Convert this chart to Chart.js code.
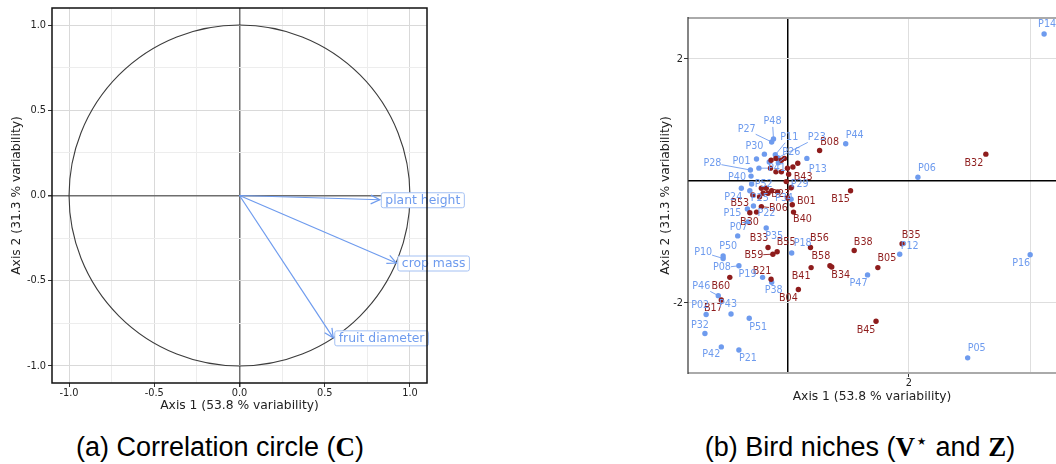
<!DOCTYPE html>
<html>
<head>
<meta charset="utf-8">
<script src="https://cdn.jsdelivr.net/npm/chart.js@4.4.1/dist/chart.umd.min.js"></script>
<style>
  html, body { margin: 0; padding: 0; background: #fff; width: 1056px; height: 464px; overflow: hidden; }
  #circle { position: absolute; left: 0; top: 0; }
  #niches { position: absolute; left: 640px; top: 0; }
  .cap { position: absolute; top: 434px; line-height: 27px; font-family: "Liberation Sans", Arial, sans-serif; font-size: 27px; color: #000; white-space: nowrap; transform: translateX(-50%); }
  .m { font-family: "Liberation Serif", "DejaVu Serif", serif; font-weight: bold; }
  .cap sup { font-family: "DejaVu Sans", sans-serif; font-size: 21px; line-height: 0; vertical-align: 8px; }
</style>
</head>
<body>
<canvas id="circle" width="470" height="420"></canvas>
<canvas id="niches" width="420" height="420"></canvas>
<div class="cap" style="left:220px">(a) Correlation circle (<span class="m">C</span>)</div>
<div class="cap" style="left:860px">(b) Bird niches (<span class="m">V</span><sup>⋆</sup> and <span class="m">Z</span>)</div>
<script>
// correlation circle
const variables = ['plant height', 'crop mass', 'fruit diameter'];
const loadAxis1 = [0.823, 0.92, 0.55];
const loadAxis2 = [-0.025, -0.396, -0.835];
const circleGrid = [-1, -0.75, -0.5, -0.25, 0, 0.25, 0.5, 0.75, 1];
const circleTicks = ['-1.0', '', '-0.5', '', '0.0', '', '0.5', '', '1.0'];

// bird niches: plants (P) and birds (B)
const plantNames = ['P14', 'P44', 'P06', 'P13', 'P16', 'P12', 'P47', 'P05', 'P18', 'P35',
  'P07', 'P50', 'P10', 'P08', 'P19', 'P38', 'P46', 'P02', 'P43', 'P32',
  'P51', 'P42', 'P21', 'P15', 'P24', 'P25', 'P22', 'P34', 'P29', 'P52',
  'P30', 'P01', 'P28', 'P40', 'P41', 'P27', 'P48', 'P11', 'P23', 'P26',
  'P03', 'P09'];
const plantAxis1 = [4.23, 0.96, 2.15, 0.32, 4.00, 1.85, 1.32, 2.97, 0.07, -0.35,
  -0.82, -1.06, -1.06, -0.80, -0.41, -0.26, -1.14, -1.34, -0.93, -1.36,
  -0.63, -1.09, -0.80, -0.66, -0.76, -0.62, -0.56, 0.06, 0.07, -0.59,
  -0.38, -0.51, -0.61, -0.60, -0.47, -0.26, -0.23, -0.20, -0.16, -0.15,
  -0.65, -0.30];
const plantAxis2 = [2.41, 0.61, 0.06, 0.37, -1.21, -1.20, -1.54, -2.90, -1.18, -0.77,
  -0.90, -1.23, -1.27, -1.39, -1.58, -1.66, -1.88, -2.19, -2.18, -2.50,
  -2.25, -2.72, -2.77, -0.46, -0.12, -0.16, -0.41, -0.30, -0.10, -0.05,
  0.44, 0.36, 0.18, 0.08, 0.21, 0.64, 0.69, 0.43, 0.38, 0.30,
  -0.67, 0.31];

const birdNames = ['B32', 'B08', 'B15', 'B35', 'B38', 'B56', 'B58', 'B34', 'B05', 'B45',
  'B41', 'B04', 'B21', 'B59', 'B55', 'B33', 'B60', 'B17', 'B40', 'B01',
  'B43', 'B23', 'B06', 'B53', 'B30', 'B02', 'B03', 'B07', 'B09', 'B10',
  'B11', 'B12', 'B13', 'B14', 'B16', 'B18', 'B19', 'B20', 'B22', 'B24',
  'B25', 'B26', 'B27', 'B28', 'B29'];
const birdAxis1 = [3.27, 0.53, 1.04, 1.89, 1.10, 0.38, 0.70, 0.73, 1.49, 1.46,
  0.39, 0.18, -0.27, -0.24, -0.17, -0.32, -0.95, -1.09, 0.10, 0.08,
  0.06, -0.16, -0.43, -0.62, -0.51, -0.27, -0.19, -0.10, -0.05, -0.28,
  -0.19, -0.10, 0.00, 0.09, 0.17, -0.02, -0.43, -0.35, -0.40, -0.32,
  -0.26, -0.46, -0.57, 0.00, 0.02];
const birdAxis2 = [0.44, 0.50, -0.16, -1.03, -1.14, -1.09, -1.39, -1.41, -1.42, -2.30,
  -1.42, -1.78, -1.61, -1.20, -1.16, -1.09, -1.58, -1.95, -0.51, -0.39,
  -0.11, -0.18, -0.42, -0.52, -0.51, 0.34, 0.37, 0.34, 0.37, 0.21,
  0.15, 0.15, 0.21, 0.23, 0.29, -0.01, -0.12, -0.12, -0.20, -0.20,
  -0.16, -0.26, -0.23, -0.28, 0.11];

const nicheGridX = [0, 2, 4];
const nicheTicksX = ['', '2', ''];
const nicheGridY = [-2, 0, 2];
const nicheTicksY = ['-2', '', '2'];

// where each shown label sits relative to its point (pixels); unlisted points get no label
const labelOffsets = {
  P14: [3, -9], P44: [9, -8], P06: [9, -9], P13: [11, 11], P16: [-9, 9], P12: [10, -8],
  P47: [-9, 9], P05: [9, -9], P18: [11, -9], P35: [8, 9], P07: [1, -8], P50: [5, -10],
  P10: [-20, -6], P08: [-17, 2], P19: [-15, -3], P38: [2, 8], P46: [-17, -9], P02: [-6, -9],
  P43: [-3, -9], P32: [-5, -8], P51: [9, 9], P42: [-10, 8], P21: [9, 9], P15: [-15, 4],
  P24: [-8, 9], P25: [10, 8], P22: [13, 8], P34: [-7, -1], P29: [8, -3], P52: [12, 0],
  P30: [-10, -8], P01: [-15, 2], P28: [-38, -7], P40: [-14, 1], P41: [18, 0], P27: [-25, -12],
  P48: [-1, -17], P11: [14, -17], P23: [39, -20], P26: [13, -10],
  B32: [-12, 9], B08: [10, -8], B15: [-10, 9], B35: [9, -8], B38: [9, -8], B56: [9, -9],
  B58: [-9, -9], B34: [9, 9], B05: [9, -9], B45: [-10, 9], B41: [-10, 9], B04: [-10, 9],
  B21: [-9, -8], B59: [-19, 1], B55: [9, -9], B33: [-9, -9], B60: [-9, 9], B17: [-8, 9],
  B40: [9, 7], B01: [14, -3], B43: [12, -10], B23: [3, 3], B06: [17, 2], B53: [-10, -9],
  B30: [-7, 10]
};

const blue = '#6e9bee';
const red = '#8e1c1c';
const tickFont = { family: 'DejaVu Sans', size: 9.8 };
const titleFont = { family: 'DejaVu Sans', size: 12.3 };

function gridAxis(grid, labels, zeroColor, majorColor, minorColor) {
  return {
    afterBuildTicks: s => { s.ticks = grid.map(v => ({ value: v })); },
    ticks: { callback: (v, i) => labels[i], font: tickFont, color: '#222', padding: 1, maxRotation: 0, autoSkip: false },
    grid: {
      color: c => {
        if (!c.tick) return majorColor;
        if (c.tick.value === 0) return zeroColor;
        return labels[c.index] ? majorColor : minorColor;
      },
      lineWidth: c => (c.tick && c.tick.value === 0 ? 1.5 : 1),
      tickColor: c => (labels[c.index] ? '#333' : 'rgba(0,0,0,0)'),
      tickLength: 4
    },
    border: { display: false }
  };
}

// left panel
const circleX = gridAxis(circleGrid, circleTicks, '#6e6e6e', '#d9d9d9', '#ededed');
const circleY = gridAxis(circleGrid, circleTicks, '#6e6e6e', '#d9d9d9', '#ededed');

new Chart(document.getElementById('circle'), {
  type: 'scatter',
  data: {
    datasets: variables.map((v, i) => ({
      label: v,
      data: [{ x: 0, y: 0 }, { x: loadAxis1[i], y: loadAxis2[i] }],
      showLine: true,
      borderColor: blue,
      borderWidth: 1.2,
      pointRadius: 0
    }))
  },
  options: {
    responsive: false,
    animation: false,
    devicePixelRatio: 1,
    layout: { padding: { left: 0, top: 8, right: 43, bottom: 0 } },
    plugins: { legend: { display: false }, tooltip: { enabled: false } },
    scales: {
      x: Object.assign(circleX, {
        min: -1.1, max: 1.1,
        afterFit: s => { s.height = 37; },
        title: { display: true, text: 'Axis 1 (53.8 % variability)', font: titleFont, color: '#222', padding: { top: 0, bottom: 6.5 } }
      }),
      y: Object.assign(circleY, {
        min: -1.1, max: 1.1,
        afterFit: s => { s.width = 52; },
        ticks: Object.assign(circleY.ticks, { padding: 2 }),
        title: { display: true, text: 'Axis 2 (31.3 % variability)', font: titleFont, color: '#222', padding: { top: 9.5, bottom: 0 } }
      })
    }
  },
  plugins: [{
    id: 'circleParts',
    beforeDatasetsDraw(chart) {
      const { ctx, scales: { x, y } } = chart;
      const cx = x.getPixelForValue(0), cy = y.getPixelForValue(0);
      ctx.save();
      ctx.strokeStyle = '#3c3c3c';
      ctx.lineWidth = 1.1;
      ctx.beginPath();
      ctx.ellipse(cx, cy, x.getPixelForValue(1) - cx, cy - y.getPixelForValue(1), 0, 0, Math.PI * 2);
      ctx.stroke();
      ctx.restore();
    },
    afterDatasetsDraw(chart) {
      const { ctx, scales: { x, y } } = chart;
      const ox = x.getPixelForValue(0), oy = y.getPixelForValue(0);
      ctx.save();
      ctx.font = '12.4px "DejaVu Sans"';
      ctx.textBaseline = 'middle';
      variables.forEach((name, i) => {
        const px = x.getPixelForValue(loadAxis1[i]), py = y.getPixelForValue(loadAxis2[i]);
        const a = Math.atan2(py - oy, px - ox);
        ctx.strokeStyle = blue;
        ctx.lineWidth = 1.2;
        ctx.beginPath();
        ctx.moveTo(px - 10 * Math.cos(a - 0.45), py - 10 * Math.sin(a - 0.45));
        ctx.lineTo(px, py);
        ctx.lineTo(px - 10 * Math.cos(a + 0.45), py - 10 * Math.sin(a + 0.45));
        ctx.stroke();
        const w = ctx.measureText(name).width + 8;
        const bx = px + 1, by = py - 7.5;
        ctx.fillStyle = '#fff';
        ctx.strokeStyle = '#a3c0f3';
        ctx.lineWidth = 1;
        ctx.beginPath();
        ctx.roundRect(bx + 0.5, by + 0.5, w, 15, 2);
        ctx.fill();
        ctx.stroke();
        ctx.fillStyle = blue;
        ctx.fillText(name, bx + 4.5, py + 1);
      });
      ctx.restore();
    },
    afterDraw(chart) {
      const { ctx, chartArea: a } = chart;
      ctx.save();
      ctx.strokeStyle = '#111';
      ctx.lineWidth = 1.5;
      ctx.strokeRect(a.left, a.top, a.right - a.left, a.bottom - a.top);
      ctx.restore();
    }
  }]
});

// right panel
const toPoints = (xs, ys) => xs.map((v, i) => ({ x: v, y: ys[i] }));

new Chart(document.getElementById('niches'), {
  type: 'scatter',
  data: {
    datasets: [
      { label: 'birds', names: birdNames, data: toPoints(birdAxis1, birdAxis2), backgroundColor: red, borderWidth: 0, pointRadius: 2.7 },
      { label: 'plants', names: plantNames, data: toPoints(plantAxis1, plantAxis2), backgroundColor: blue, borderWidth: 0, pointRadius: 2.7 }
    ]
  },
  options: {
    responsive: false,
    animation: false,
    devicePixelRatio: 1,
    layout: { padding: { left: 0, top: 18, right: 2, bottom: 0 } },
    plugins: { legend: { display: false }, tooltip: { enabled: false } },
    scales: {
      x: Object.assign(gridAxis(nicheGridX, nicheTicksX, '#000', '#dedede', '#dedede'), {
        min: -1.639, max: 4.426,
        afterFit: s => { s.height = 47; },
        title: { display: true, text: 'Axis 1 (53.8 % variability)', font: titleFont, color: '#222', padding: { top: 0, bottom: 15.5 } }
      }),
      y: Object.assign(gridAxis(nicheGridY, nicheTicksY, '#000', '#dedede', '#dedede'), {
        min: -3.148, max: 2.672,
        afterFit: s => { s.width = 48; },
        title: { display: true, text: 'Axis 2 (31.3 % variability)', font: titleFont, color: '#222', padding: { top: 18, bottom: 0 } }
      })
    }
  },
  plugins: [{
    id: 'pointLabels',
    afterDatasetsDraw(chart) {
      const { ctx, scales: { x, y } } = chart;
      ctx.save();
      ctx.font = '9.6px "DejaVu Sans"';
      ctx.textAlign = 'center';
      ctx.textBaseline = 'middle';
      chart.data.datasets.forEach(ds => {
        const color = ds.backgroundColor;
        ds.data.forEach((p, i) => {
          const off = labelOffsets[ds.names[i]];
          if (!off) return;
          const px = x.getPixelForValue(p.x), py = y.getPixelForValue(p.y);
          const lx = px + off[0], ly = py + off[1];
          const w = ctx.measureText(ds.names[i]).width, h = 10;
          if (Math.hypot(off[0], off[1]) > 16) {
            const s = Math.min(w / 2 / Math.max(Math.abs(off[0]), 0.01), h / 2 / Math.max(Math.abs(off[1]), 0.01));
            ctx.strokeStyle = color;
            ctx.lineWidth = 0.9;
            ctx.beginPath();
            ctx.moveTo(lx - off[0] * s, ly - off[1] * s);
            ctx.lineTo(px, py);
            ctx.stroke();
          }
          ctx.fillStyle = color;
          ctx.fillText(ds.names[i], lx, ly);
        });
      });
      ctx.restore();
    },
    afterDraw(chart) {
      const { ctx, chartArea: a } = chart;
      ctx.save();
      ctx.strokeStyle = '#aaa';
      ctx.lineWidth = 2;
      ctx.beginPath();
      ctx.moveTo(a.left, a.top); ctx.lineTo(a.right, a.top);
      ctx.moveTo(a.left, a.bottom); ctx.lineTo(a.right, a.bottom);
      ctx.stroke();
      ctx.strokeStyle = '#333';
      ctx.lineWidth = 1.2;
      ctx.beginPath();
      ctx.moveTo(a.left, a.top - 1); ctx.lineTo(a.left, a.bottom + 1);
      ctx.stroke();
      ctx.restore();
    }
  }]
});
</script>
</body>
</html>
